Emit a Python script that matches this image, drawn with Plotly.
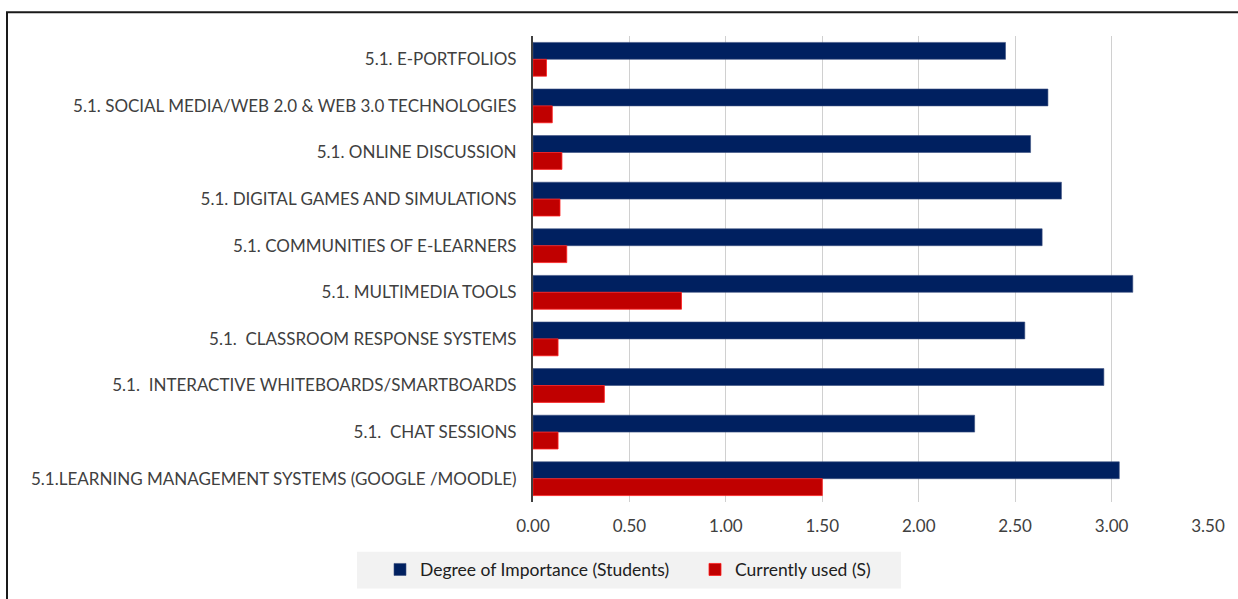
import plotly.graph_objects as go

categories = [
    "5.1. E-PORTFOLIOS",
    "5.1. SOCIAL MEDIA/WEB 2.0 & WEB 3.0 TECHNOLOGIES",
    "5.1. ONLINE DISCUSSION",
    "5.1. DIGITAL GAMES AND SIMULATIONS",
    "5.1. COMMUNITIES OF E-LEARNERS",
    "5.1. MULTIMEDIA TOOLS",
    "5.1.\u00a0 CLASSROOM RESPONSE SYSTEMS",
    "5.1.\u00a0 INTERACTIVE WHITEBOARDS/SMARTBOARDS",
    "5.1.\u00a0 CHAT SESSIONS",
    "5.1.LEARNING MANAGEMENT SYSTEMS (GOOGLE /MOODLE)",
]
importance_students = [2.45, 2.67, 2.58, 2.74, 2.64, 3.11, 2.55, 2.96, 2.29, 3.04]
currently_used = [0.07, 0.10, 0.15, 0.14, 0.175, 0.77, 0.13, 0.37, 0.13, 1.50]
x_ticks = [0, 0.5, 1.0, 1.5, 2.0, 2.5, 3.0, 3.5]
x_tick_labels = ["0.00", "0.50", "1.00", "1.50", "2.00", "2.50", "3.00", "3.50"]

W, H = 1238, 599
L, R, T, B = 533, 30, 36, 94
pw, ph = W - L - R, H - T - B

FONT = "Lato"
TXT = "#404040"

fig = go.Figure()
fig.add_trace(go.Bar(
    y=categories, x=importance_students, orientation="h",
    name="Degree of Importance (Students)",
    marker=dict(color="#002060", line=dict(color="#3a4f80", width=0.6)),
))
fig.add_trace(go.Bar(
    y=categories, x=currently_used, orientation="h",
    name="Currently used (S)",
    marker=dict(color="#C00000", line=dict(color="#ff2020", width=0.8)),
))

def px_to_paper_x(px):
    return (px - L) / pw

def px_to_paper_y(py):
    return 1 - (py - T) / ph

shapes = [
    dict(type="rect", xref="paper", yref="paper",
         x0=px_to_paper_x(7), x1=px_to_paper_x(W + 10),
         y0=px_to_paper_y(H + 10), y1=px_to_paper_y(12),
         line=dict(color="#1a1a1a", width=2), fillcolor="rgba(0,0,0,0)", layer="below"),
    dict(type="rect", xref="paper", yref="paper",
         x0=px_to_paper_x(357), x1=px_to_paper_x(901),
         y0=px_to_paper_y(592), y1=px_to_paper_y(555),
         line=dict(width=0), fillcolor="#f2f2f2", layer="below"),
]

fig.update_layout(
    width=W, height=H,
    margin=dict(l=L, r=R, t=T, b=B),
    paper_bgcolor="white", plot_bgcolor="white",
    barmode="group", bargap=0.275, bargroupgap=0,
    font=dict(family=FONT, size=17, color=TXT),
    showlegend=True,
    legend=dict(
        orientation="h", x=px_to_paper_x(380), y=px_to_paper_y(573),
        xanchor="left", yanchor="middle",
        bgcolor="rgba(0,0,0,0)", font=dict(family=FONT, size=17.5, color="#202020"),
        itemwidth=30, traceorder="normal", entrywidth=270,
    ),
    shapes=shapes,
    xaxis=dict(
        range=[0, 3.5], tickvals=x_ticks, ticktext=x_tick_labels,
        showgrid=True, gridcolor="#d0d0d0", gridwidth=1,
        zeroline=False, showline=False, ticks="",
        tickfont=dict(family=FONT, size=17, color=TXT),
        ticklabelstandoff=12, fixedrange=True,
    ),
    yaxis=dict(
        autorange="reversed", showgrid=False, zeroline=False,
        showline=True, linecolor="#404040", linewidth=2,
        ticks="", ticklabelstandoff=11,
        tickfont=dict(family=FONT, size=17, color=TXT),
        fixedrange=True,
    ),
)

fig.write_html(
    "out.html",
    config={"displayModeBar": False},
    post_script="document.body.style.margin='0';document.body.style.padding='0';",
)
